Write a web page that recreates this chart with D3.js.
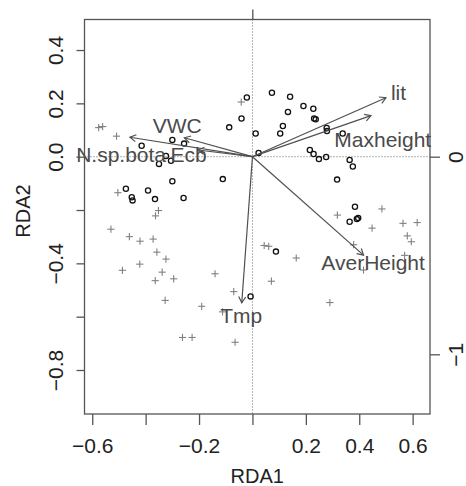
<!DOCTYPE html>
<html><head><meta charset="utf-8">
<script src="https://cdn.jsdelivr.net/npm/d3@7"></script>
<style>body{margin:0;background:#fff}svg{display:block}text{font-family:"Liberation Sans",Arial,sans-serif}</style>
</head><body><svg id="c" width="466" height="486"></svg>
<script>
// Site scores (open circles)
const siteX = [-0.300,-0.256,-0.415,-0.350,-0.324,-0.305,-0.300,-0.111,-0.474,-0.452,-0.449,-0.391,-0.365,-0.258,
  -0.087,-0.041,-0.021,0.012,0.023,0.073,0.141,0.191,0.228,0.133,0.114,0.104,0.231,0.237,0.278,0.279,0.338,
  0.215,0.229,0.249,0.276,0.364,0.376,0.317,0.384,0.364,0.391,0.396,0.088,-0.007];
const siteY = [0.063,0.049,0.041,-0.027,0.003,-0.015,-0.092,-0.084,-0.120,-0.152,-0.164,-0.127,-0.159,-0.155,
  0.110,0.143,0.222,0.087,0.014,0.240,0.225,0.190,0.180,0.168,0.115,0.087,0.143,0.140,0.108,0.096,0.087,
  0.025,0.010,-0.009,-0.001,-0.012,-0.037,-0.086,-0.188,-0.244,-0.234,-0.230,-0.356,-0.524];
// Species scores (plus signs)
const speciesX = [-0.576,-0.561,-0.509,-0.042,-0.504,-0.352,-0.363,-0.530,-0.461,-0.421,-0.372,-0.358,-0.324,-0.422,
  -0.487,-0.338,-0.364,-0.295,-0.327,-0.262,-0.226,-0.140,-0.070,-0.190,-0.112,-0.065,0.044,0.061,0.164,0.071,
  0.290,0.318,0.485,0.448,0.564,0.617,0.580,0.595,0.379,0.570,0.416];
const speciesY = [0.109,0.113,0.077,0.205,-0.135,-0.202,-0.222,-0.272,-0.300,-0.317,-0.309,-0.358,-0.384,-0.403,
  -0.426,-0.433,-0.465,-0.458,-0.539,-0.678,-0.678,-0.439,-0.506,-0.561,-0.582,-0.696,-0.333,-0.336,-0.380,-0.467,
  -0.547,-0.219,-0.196,-0.268,-0.250,-0.247,-0.297,-0.319,-0.330,-0.370,-0.425];
// Biplot arrows (environmental variables)
const envNames = ["lit","Maxheight","VWC","Ecb","N.sp.bota","AverHeight","Tmp"];
const envX = [0.500,0.444,-0.255,-0.204,-0.459,0.416,-0.040];
const envY = [0.221,0.154,0.071,0.025,0.073,-0.369,-0.548];
const labelX = [0.547,0.488,-0.282,-0.239,-0.492,0.452,-0.042];
const labelY = [0.241,0.0645,0.116,0.009,0.009,-0.397,-0.596];
// Axes
const xTicks = [-0.6,-0.4,-0.2,0,0.2,0.4,0.6];
const xTickLabels = ["−0.6","","−0.2","","0.2","0.4","0.6"];
const yTicks = [0.4,0.2,0,-0.2,-0.4,-0.6,-0.8];
const yTickLabels = ["0.4","0.2","0.0","","−0.4","","−0.8"];
const rightTicks = [0,-1];
const rightTickLabels = ["0","−1"];
const topTicks = [0];

const L=84.5, R=430, T=19.5, B=414;
const x = d3.scaleLinear().domain([-0.629,0.665]).range([L,R]);
const y = d3.scaleLinear().domain([-0.965,0.5145]).range([B,T]);
// secondary (species) axes scale
const y2 = d3.scaleLinear().domain([-1,0]).range([354.3,156.7]);
const x2 = d3.scaleLinear().domain([0,1]).range([252.3,449.9]);

const svg = d3.select("#c");
const axCol="#555", txtCol="#222";

// zero lines
svg.append("line").attr("x1",x(0)).attr("x2",x(0)).attr("y1",T).attr("y2",B)
  .attr("stroke","#666").attr("stroke-dasharray","1,2").attr("stroke-width",1);
svg.append("line").attr("x1",L).attr("x2",R).attr("y1",y(0)).attr("y2",y(0))
  .attr("stroke","#666").attr("stroke-dasharray","1,2").attr("stroke-width",1);

// box
svg.append("rect").attr("x",L).attr("y",T).attr("width",R-L).attr("height",B-T)
  .attr("fill","none").attr("stroke",axCol).attr("stroke-width",1.3);

// bottom axis
const gx = svg.append("g").attr("transform",`translate(0,${B})`)
  .call(d3.axisBottom(x).tickValues(xTicks).tickSize(11).tickPadding(13).tickFormat((d,i)=>xTickLabels[i]));
// left axis
const gy = svg.append("g").attr("transform",`translate(${L},0)`)
  .call(d3.axisLeft(y).tickValues(yTicks).tickSize(8).tickFormat((d,i)=>yTickLabels[i]));
// right axis
const gr = svg.append("g").attr("transform",`translate(${R},0)`)
  .call(d3.axisRight(y2).tickValues(rightTicks).tickSize(10).tickFormat((d,i)=>rightTickLabels[i]));
// top axis
const gt = svg.append("g").attr("transform",`translate(0,${T})`)
  .call(d3.axisTop(x2).tickValues(topTicks).tickSize(10).tickFormat(""));
[gx,gy,gr,gt].forEach(g=>{
  g.select(".domain").remove();
  g.selectAll(".tick line").attr("stroke",axCol).attr("stroke-width",1.3);
  g.selectAll(".tick text").attr("fill",txtCol).style("font-size","21px")
    .style("font-family",'"Liberation Sans",Arial,sans-serif');
});
gy.selectAll(".tick text").attr("transform","rotate(-90)").attr("x",0).attr("y",-22).attr("dy","0")
  .attr("text-anchor","middle");
gr.selectAll(".tick text").attr("transform","rotate(-90)").attr("x",0).attr("y",33).attr("dy","0")
  .attr("text-anchor","middle");

// axis titles
svg.append("text").attr("x",(L+R)/2).attr("y",483).attr("text-anchor","middle")
  .attr("fill",txtCol).style("font-size","20px").text("RDA1");
svg.append("text").attr("transform",`translate(30,211) rotate(-90)`).attr("text-anchor","middle")
  .attr("fill",txtCol).style("font-size","20px").text("RDA2");

// species pluses
const ps = 3.6;
const sp = svg.append("g").attr("stroke","#808080").attr("stroke-width",1.1);
speciesX.forEach((sx,i)=>{
  const cx=x(sx), cy=y(speciesY[i]);
  sp.append("line").attr("x1",cx-ps).attr("x2",cx+ps).attr("y1",cy).attr("y2",cy);
  sp.append("line").attr("x1",cx).attr("x2",cx).attr("y1",cy-ps).attr("y2",cy+ps);
});

// sites circles
svg.append("g").selectAll("circle").data(siteX).join("circle")
  .attr("cx",d=>x(d)).attr("cy",(d,i)=>y(siteY[i])).attr("r",2.6)
  .attr("fill","none").attr("stroke","#111").attr("stroke-width",1.3);

// arrows
const ag = svg.append("g").attr("stroke","#505050").attr("stroke-width",1.2).attr("fill","none");
envX.forEach((ex,i)=>{
  const x0=x(0), y0=y(0), x1=x(ex), y1=y(envY[i]);
  ag.append("line").attr("x1",x0).attr("y1",y0).attr("x2",x1).attr("y2",y1);
  const a=Math.atan2(y1-y0,x1-x0), len=7, sp2=Math.PI/6;
  ag.append("path").attr("d",`M${x1-len*Math.cos(a-sp2)},${y1-len*Math.sin(a-sp2)}L${x1},${y1}L${x1-len*Math.cos(a+sp2)},${y1-len*Math.sin(a+sp2)}`);
});
// labels
svg.append("g").selectAll("text").data(envNames).join("text")
  .attr("x",(d,i)=>x(labelX[i])).attr("y",(d,i)=>y(labelY[i])).attr("dy","0.36em")
  .attr("text-anchor","middle").attr("fill","#4a4a4a").style("font-size","21px").text(d=>d);
</script></body></html>
